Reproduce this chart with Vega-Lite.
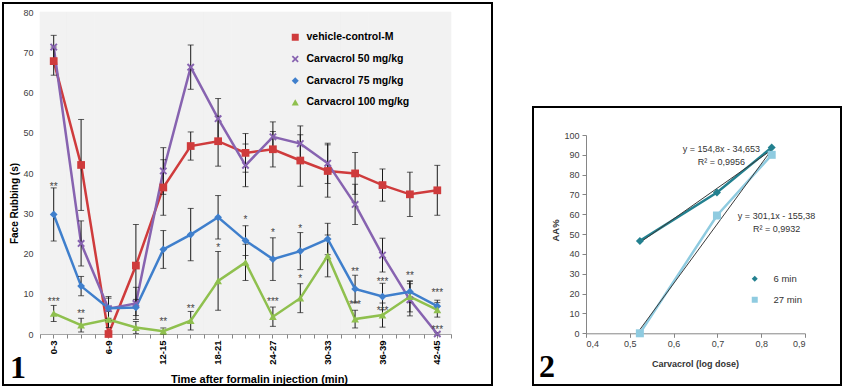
{
  "$schema": "https://vega.github.io/schema/vega-lite/v6.json",
  "padding": {"left": 2, "top": 2, "right": 0, "bottom": 0},
  "background": "white",
  "bounds": "flush",
  "spacing": 41,
  "resolve": {"scale": {"color": "independent", "shape": "independent", "size": "independent", "stroke": "independent"}, "legend": {"color": "independent", "shape": "independent", "size": "independent", "stroke": "independent"}},
  "config": {"font": "Liberation Sans", "view": {"stroke": null}, "axis": {"grid": false}},
  "datasets": {
    "p1": [
      {"series": "vehicle-control-M", "time": "0-3", "mean": 67.8, "err": 3.5},
      {"series": "vehicle-control-M", "time": "3-6", "mean": 42, "err": 11.3},
      {"series": "vehicle-control-M", "time": "6-9", "mean": 0, "err": 0.5},
      {"series": "vehicle-control-M", "time": "9-12", "mean": 17, "err": 10.2},
      {"series": "vehicle-control-M", "time": "12-15", "mean": 36.4, "err": 6.9},
      {"series": "vehicle-control-M", "time": "15-18", "mean": 46.7, "err": 3.5},
      {"series": "vehicle-control-M", "time": "18-21", "mean": 47.9, "err": 6.2},
      {"series": "vehicle-control-M", "time": "21-24", "mean": 45, "err": 4.8},
      {"series": "vehicle-control-M", "time": "24-27", "mean": 45.9, "err": 4.4},
      {"series": "vehicle-control-M", "time": "27-30", "mean": 43.1, "err": 6.4},
      {"series": "vehicle-control-M", "time": "30-33", "mean": 40.5, "err": 6.5},
      {"series": "vehicle-control-M", "time": "33-36", "mean": 39.9, "err": 5.2},
      {"series": "vehicle-control-M", "time": "36-39", "mean": 37, "err": 4},
      {"series": "vehicle-control-M", "time": "39-42", "mean": 34.7, "err": 5.5},
      {"series": "vehicle-control-M", "time": "42-45", "mean": 35.7, "err": 6.2},
      {"series": "Carvacrol 50 mg/kg", "time": "0-3", "mean": 71.3, "err": 2.9},
      {"series": "Carvacrol 50 mg/kg", "time": "3-6", "mean": 22.5, "err": 5.6},
      {"series": "Carvacrol 50 mg/kg", "time": "6-9", "mean": 6.3, "err": 3},
      {"series": "Carvacrol 50 mg/kg", "time": "9-12", "mean": 7.6, "err": 4},
      {"series": "Carvacrol 50 mg/kg", "time": "12-15", "mean": 40.5, "err": 5.8},
      {"series": "Carvacrol 50 mg/kg", "time": "15-18", "mean": 66.3, "err": 5.5},
      {"series": "Carvacrol 50 mg/kg", "time": "18-21", "mean": 53.5, "err": 5},
      {"series": "Carvacrol 50 mg/kg", "time": "21-24", "mean": 41.9, "err": 5.3},
      {"series": "Carvacrol 50 mg/kg", "time": "24-27", "mean": 49, "err": 3.7},
      {"series": "Carvacrol 50 mg/kg", "time": "27-30", "mean": 47.3, "err": 4.4},
      {"series": "Carvacrol 50 mg/kg", "time": "30-33", "mean": 42.4, "err": 5},
      {"series": "Carvacrol 50 mg/kg", "time": "33-36", "mean": 32.2, "err": 5},
      {"series": "Carvacrol 50 mg/kg", "time": "36-39", "mean": 19.6, "err": 4.2},
      {"series": "Carvacrol 50 mg/kg", "time": "39-42", "mean": 8.5, "err": 4},
      {"series": "Carvacrol 50 mg/kg", "time": "42-45", "mean": 0, "err": 0.3},
      {"series": "Carvacrol 75 mg/kg", "time": "0-3", "mean": 29.7, "err": 6.6},
      {"series": "Carvacrol 75 mg/kg", "time": "3-6", "mean": 11.9, "err": 2.4},
      {"series": "Carvacrol 75 mg/kg", "time": "6-9", "mean": 6.4, "err": 2.5},
      {"series": "Carvacrol 75 mg/kg", "time": "9-12", "mean": 6.6, "err": 2},
      {"series": "Carvacrol 75 mg/kg", "time": "12-15", "mean": 21, "err": 4.7},
      {"series": "Carvacrol 75 mg/kg", "time": "15-18", "mean": 24.7, "err": 6.5},
      {"series": "Carvacrol 75 mg/kg", "time": "18-21", "mean": 29, "err": 5.4},
      {"series": "Carvacrol 75 mg/kg", "time": "21-24", "mean": 23.2, "err": 3.7},
      {"series": "Carvacrol 75 mg/kg", "time": "24-27", "mean": 18.6, "err": 5.3},
      {"series": "Carvacrol 75 mg/kg", "time": "27-30", "mean": 20.6, "err": 4.6},
      {"series": "Carvacrol 75 mg/kg", "time": "30-33", "mean": 23.6, "err": 3.9},
      {"series": "Carvacrol 75 mg/kg", "time": "33-36", "mean": 11.2, "err": 3.4},
      {"series": "Carvacrol 75 mg/kg", "time": "36-39", "mean": 9.3, "err": 3.3},
      {"series": "Carvacrol 75 mg/kg", "time": "39-42", "mean": 10.5, "err": 2.7},
      {"series": "Carvacrol 75 mg/kg", "time": "42-45", "mean": 6.9, "err": 1.5},
      {"series": "Carvacrol 100 mg/kg", "time": "0-3", "mean": 5.1, "err": 2},
      {"series": "Carvacrol 100 mg/kg", "time": "3-6", "mean": 2.2, "err": 1.7},
      {"series": "Carvacrol 100 mg/kg", "time": "6-9", "mean": 3.6, "err": 2},
      {"series": "Carvacrol 100 mg/kg", "time": "9-12", "mean": 1.6, "err": 1.5},
      {"series": "Carvacrol 100 mg/kg", "time": "12-15", "mean": 0.7, "err": 0.8},
      {"series": "Carvacrol 100 mg/kg", "time": "15-18", "mean": 3.3, "err": 2.3},
      {"series": "Carvacrol 100 mg/kg", "time": "18-21", "mean": 13.2, "err": 7.3},
      {"series": "Carvacrol 100 mg/kg", "time": "21-24", "mean": 17.8, "err": 4.5},
      {"series": "Carvacrol 100 mg/kg", "time": "24-27", "mean": 4.3, "err": 2.4},
      {"series": "Carvacrol 100 mg/kg", "time": "27-30", "mean": 8.9, "err": 3.6},
      {"series": "Carvacrol 100 mg/kg", "time": "30-33", "mean": 19.4, "err": 5.2},
      {"series": "Carvacrol 100 mg/kg", "time": "33-36", "mean": 3.7, "err": 2.2},
      {"series": "Carvacrol 100 mg/kg", "time": "36-39", "mean": 4.7, "err": 3},
      {"series": "Carvacrol 100 mg/kg", "time": "39-42", "mean": 9.3, "err": 3.8},
      {"series": "Carvacrol 100 mg/kg", "time": "42-45", "mean": 6, "err": 1.8}
    ],
    "stars": [
      {"time": "0-3", "pos": 37.1, "label": "**"},
      {"time": "0-3", "pos": 8.4, "label": "***"},
      {"time": "3-6", "pos": 5.4, "label": "**"},
      {"time": "12-15", "pos": 3.5, "label": "**"},
      {"time": "15-18", "pos": 6.8, "label": "**"},
      {"time": "18-21", "pos": 21.9, "label": "*"},
      {"time": "21-24", "pos": 28.7, "label": "*"},
      {"time": "24-27", "pos": 25.6, "label": "*"},
      {"time": "24-27", "pos": 8.4, "label": "***"},
      {"time": "27-30", "pos": 26.6, "label": "*"},
      {"time": "27-30", "pos": 14.2, "label": "*"},
      {"time": "33-36", "pos": 15.9, "label": "**"},
      {"time": "33-36", "pos": 7.8, "label": "***"},
      {"time": "36-39", "pos": 13.4, "label": "***"},
      {"time": "36-39", "pos": 6.2, "label": "***"},
      {"time": "39-42", "pos": 14.8, "label": "**"},
      {"time": "42-45", "pos": 10.7, "label": "***"},
      {"time": "42-45", "pos": 1.4, "label": "***"}
    ],
    "p2": [
      {"series": "6 min", "dose": 0.523, "aa": 46.6},
      {"series": "6 min", "dose": 0.699, "aa": 71},
      {"series": "6 min", "dose": 0.824, "aa": 93.7},
      {"series": "27 min", "dose": 0.523, "aa": 0},
      {"series": "27 min", "dose": 0.699, "aa": 59.4},
      {"series": "27 min", "dose": 0.824, "aa": 90}
    ],
    "eq": [
      {"dose": 0.709, "aa": 92.9, "label": "y = 154,8x - 34,653"},
      {"dose": 0.709, "aa": 86.5, "label": "R² = 0,9956"},
      {"dose": 0.835, "aa": 59.3, "label": "y = 301,1x - 155,38"},
      {"dose": 0.835, "aa": 52.6, "label": "R² = 0,9932"}
    ]
  },
  "hconcat": [
    {
      "width": 489,
      "height": 382,
      "view": {"stroke": "black", "strokeWidth": 2, "fill": "white"},
      "title": {"text": "1", "orient": "bottom", "anchor": "start", "frame": "group", "offset": -7, "baseline": "alphabetic", "dx": 7, "fontSize": 32, "font": "Liberation Serif", "fontWeight": "bold", "color": "black"},
      "resolve": {"axis": {"x": "independent"}, "scale": {"stroke": "independent"}, "legend": {"stroke": "independent"}},
      "layer": [
        {
          "data": {"name": "p1"},
          "transform": [{"filter": "datum.series === 'vehicle-control-M'"}],
          "mark": {"type": "rect", "color": "#f2f2f2", "stroke": "#f2f2f2", "strokeWidth": 0.6},
          "encoding": {
            "x": {"field": "time", "type": "ordinal",
              "scale": {"type": "band", "domain": ["0-3","3-6","6-9","9-12","12-15","15-18","18-21","21-24","24-27","27-30","30-33","33-36","36-39","39-42","42-45"], "range": [37, 448], "paddingInner": 0, "paddingOuter": 0},
              "axis": {"orient": "bottom", "offset": -51, "labels": false, "domain": false, "tickBand": "extent", "tickSize": 4, "tickColor": "#868686", "title": null}},
            "y": {"datum": 0, "type": "quantitative", "title": "Face Rubbing (s)",
              "scale": {"domain": [0, 80], "range": [331, 9], "nice": false, "zero": true},
              "axis": {"values": [0,10,20,30,40,50,60,70,80], "offset": -37, "ticks": false, "tickSize": 0, "labelPadding": 7, "labelFontSize": 9, "labelColor": "#404040", "domainColor": "#868686", "title": "Face Rubbing (s)", "titleFontSize": 10, "titleFontWeight": "bold", "titleColor": "#000000", "titleX": -26, "titleY": 200, "titleAngle": 270, "titleAlign": "center", "titleBaseline": "middle"}},
            "y2": {"datum": 80}
          }
        },
        {
          "data": {"name": "p1"},
          "mark": {"type": "line", "strokeWidth": 2.5},
          "encoding": {
            "x": {"field": "time", "type": "ordinal", "sort": ["0-3","3-6","6-9","9-12","12-15","15-18","18-21","21-24","24-27","27-30","30-33","33-36","36-39","39-42","42-45"],
              "axis": {"orient": "bottom", "offset": -51, "labelAngle": 270, "labelFontWeight": "bold", "labelFontSize": 9.5, "labelColor": "#000000", "labelPadding": 2, "labelExpr": "indexof(['0-3','6-9','12-15','18-21','24-27','30-33','36-39','42-45'], datum.value) >= 0 ? datum.value : ''", "tickSize": 4, "tickColor": "#868686", "domainColor": "#868686", "title": "Time after formalin injection (min)", "titleFontSize": 11, "titleFontWeight": "bold", "titleColor": "#000000", "titleX": 256, "titleY": 45, "titleBaseline": "middle", "titleAlign": "center"}},
            "y": {"field": "mean", "type": "quantitative", "title": "Face Rubbing (s)"},
            "stroke": {"field": "series", "type": "nominal", "legend": null,
              "scale": {"domain": ["vehicle-control-M", "Carvacrol 50 mg/kg", "Carvacrol 75 mg/kg", "Carvacrol 100 mg/kg"], "range": ["#cf3b3c", "#8763b0", "#3f7fcc", "#8fc04e"]}}
          }
        },
        {
          "data": {"name": "p1"},
          "mark": {"type": "errorbar", "color": "#1a1a1a", "thickness": 1, "ticks": {"size": 6, "thickness": 1, "color": "#1a1a1a"}},
          "encoding": {
            "x": {"field": "time", "type": "ordinal", "axis": null},
            "y": {"field": "mean", "type": "quantitative", "title": "Face Rubbing (s)"},
            "yError": {"field": "err"}
          }
        },
        {
          "data": {"name": "p1"},
          "mark": {"type": "point", "filled": true, "opacity": 1, "size": 60},
          "encoding": {
            "x": {"field": "time", "type": "ordinal", "axis": null},
            "y": {"field": "mean", "type": "quantitative", "title": "Face Rubbing (s)"},
            "color": {"field": "series", "type": "nominal",
              "scale": {"domain": ["vehicle-control-M", "Carvacrol 50 mg/kg", "Carvacrol 75 mg/kg", "Carvacrol 100 mg/kg"], "range": ["#cf3b3c", "#8763b0", "#3f7fcc", "#8fc04e"]},
              "legend": {"orient": "none", "legendX": 287, "legendY": 29, "title": null, "symbolSize": 49, "symbolStrokeWidth": 2, "labelFontSize": 10.5, "labelFontWeight": "bold", "labelColor": "#000000", "labelOffset": 6, "rowPadding": 10.7, "padding": 0,
                "encode": {"symbols": {
                  "shape": {"value": {"expr": "datum.value === 'vehicle-control-M' ? 'M-3,0H3M-1,-1H1V1H-1Z' : datum.value === 'Carvacrol 50 mg/kg' ? 'M-3,0H3M-1,-0.65L-0.65,-1L0,-0.35L0.65,-1L1,-0.65L0.35,0L1,0.65L0.65,1L0,0.35L-0.65,1L-1,0.65L-0.35,0Z' : datum.value === 'Carvacrol 75 mg/kg' ? 'M-3,0H3M0,-1.1L1.1,0L0,1.1L-1.1,0Z' : 'M-3,0H3M0,-1.1L1.1,0.9L-1.1,0.9Z'"}},
                  "stroke": {"value": {"expr": "datum.value === 'vehicle-control-M' ? '#cf3b3c' : datum.value === 'Carvacrol 50 mg/kg' ? '#8763b0' : datum.value === 'Carvacrol 75 mg/kg' ? '#3f7fcc' : '#8fc04e'"}},
                  "strokeWidth": {"value": 2},
                  "size": {"value": 49},
                  "opacity": {"value": 1}
                }}}},
            "shape": {"field": "series", "type": "nominal",
              "scale": {"domain": ["vehicle-control-M", "Carvacrol 50 mg/kg", "Carvacrol 75 mg/kg", "Carvacrol 100 mg/kg"], "range": ["square", "M-1,-0.65L-0.65,-1L0,-0.35L0.65,-1L1,-0.65L0.35,0L1,0.65L0.65,1L0,0.35L-0.65,1L-1,0.65L-0.35,0Z", "diamond", "triangle-up"]}}
          }
        },
        {
          "data": {"name": "stars"},
          "mark": {"type": "text", "fontSize": 10, "color": "#444444", "baseline": "middle", "dy": 2},
          "encoding": {
            "x": {"field": "time", "type": "ordinal", "axis": null},
            "y": {"field": "pos", "type": "quantitative", "title": "Face Rubbing (s)"},
            "text": {"field": "label"}
          }
        }
      ]
    },
    {
      "bounds": "flush",
      "spacing": 103,
      "vconcat": [
        {"width": 1, "height": 1, "data": {"values": []}, "mark": {"type": "point", "opacity": 0}},
        {
          "width": 308,
          "height": 278,
          "view": {"stroke": "black", "strokeWidth": 2, "fill": "white"},
          "title": {"text": "2", "orient": "bottom", "anchor": "start", "frame": "group", "offset": -8, "baseline": "alphabetic", "dx": 6, "fontSize": 32, "font": "Liberation Serif", "fontWeight": "bold", "color": "black"},
          "resolve": {"scale": {"stroke": "independent"}, "legend": {"stroke": "independent"}},
          "layer": [
            {
              "data": {"name": "p2"},
              "mark": {"type": "line", "strokeWidth": 2.5},
              "encoding": {
                "x": {"field": "dose", "type": "quantitative", "title": "Carvacrol  (log dose)",
                  "scale": {"domain": [0.4, 0.9], "range": [53, 272], "nice": false, "zero": false},
                  "axis": {"values": [0.4, 0.5, 0.6, 0.7, 0.8, 0.9], "labelOverlap": false, "labelExpr": "replace(format(datum.value, '.1f'), '.', ',')", "offset": -51.7, "tickSize": 4, "tickColor": "#868686", "domainColor": "#868686", "labelFontSize": 9, "labelColor": "#404040", "labelPadding": 2, "title": "Carvacrol  (log dose)", "titleFontSize": 9, "titleFontWeight": "bold", "titleColor": "#333333", "titleX": 162, "titleY": 30, "titleBaseline": "middle", "titleAlign": "center"}},
                "y": {"field": "aa", "type": "quantitative", "title": "AA%",
                  "scale": {"domain": [0, 100], "range": [226.3, 28], "nice": false},
                  "axis": {"values": [0,10,20,30,40,50,60,70,80,90,100], "labelOverlap": false, "offset": -53, "tickSize": 4, "tickColor": "#868686", "domainColor": "#868686", "labelFontSize": 9, "labelColor": "#404040", "labelPadding": 3, "title": "AA%", "titleFontSize": 9.5, "titleFontWeight": "bold", "titleColor": "#333333", "titleX": -31, "titleY": 123, "titleAngle": 270, "titleAlign": "center", "titleBaseline": "middle"}},
                "stroke": {"field": "series", "type": "nominal", "legend": null,
                  "scale": {"domain": ["6 min", "27 min"], "range": ["#23808f", "#8fcbe0"]}}
              }
            },
            {
              "data": {"name": "p2"},
              "transform": [{"regression": "aa", "on": "dose", "groupby": ["series"]}],
              "mark": {"type": "line", "color": "#3a3a3a", "strokeWidth": 1},
              "encoding": {
                "x": {"field": "dose", "type": "quantitative", "title": "Carvacrol  (log dose)",
                  "axis": {"values": [0.4, 0.5, 0.6, 0.7, 0.8, 0.9], "labelOverlap": false, "labelExpr": "replace(format(datum.value, '.1f'), '.', ',')", "offset": -51.7, "tickSize": 4, "tickColor": "#868686", "domainColor": "#868686", "labelFontSize": 9, "labelColor": "#404040", "labelPadding": 2, "title": "Carvacrol  (log dose)", "titleFontSize": 9, "titleFontWeight": "bold", "titleColor": "#333333", "titleX": 162, "titleY": 30, "titleBaseline": "middle", "titleAlign": "center"}},
                "y": {"field": "aa", "type": "quantitative", "title": "AA%",
                  "axis": {"values": [0,10,20,30,40,50,60,70,80,90,100], "labelOverlap": false, "offset": -53, "tickSize": 4, "tickColor": "#868686", "domainColor": "#868686", "labelFontSize": 9, "labelColor": "#404040", "labelPadding": 3, "title": "AA%", "titleFontSize": 9.5, "titleFontWeight": "bold", "titleColor": "#333333", "titleX": -31, "titleY": 123, "titleAngle": 270, "titleAlign": "center", "titleBaseline": "middle"}},
                "detail": {"field": "series", "type": "nominal"}
              }
            },
            {
              "data": {"name": "p2"},
              "mark": {"type": "point", "filled": true, "opacity": 1, "size": 64},
              "encoding": {
                "x": {"field": "dose", "type": "quantitative", "title": "Carvacrol  (log dose)",
                  "axis": {"values": [0.4, 0.5, 0.6, 0.7, 0.8, 0.9], "labelOverlap": false, "labelExpr": "replace(format(datum.value, '.1f'), '.', ',')", "offset": -51.7, "tickSize": 4, "tickColor": "#868686", "domainColor": "#868686", "labelFontSize": 9, "labelColor": "#404040", "labelPadding": 2, "title": "Carvacrol  (log dose)", "titleFontSize": 9, "titleFontWeight": "bold", "titleColor": "#333333", "titleX": 162, "titleY": 30, "titleBaseline": "middle", "titleAlign": "center"}},
                "y": {"field": "aa", "type": "quantitative", "title": "AA%",
                  "axis": {"values": [0,10,20,30,40,50,60,70,80,90,100], "labelOverlap": false, "offset": -53, "tickSize": 4, "tickColor": "#868686", "domainColor": "#868686", "labelFontSize": 9, "labelColor": "#404040", "labelPadding": 3, "title": "AA%", "titleFontSize": 9.5, "titleFontWeight": "bold", "titleColor": "#333333", "titleX": -31, "titleY": 123, "titleAngle": 270, "titleAlign": "center", "titleBaseline": "middle"}},
                "color": {"field": "series", "type": "nominal",
                  "scale": {"domain": ["6 min", "27 min"], "range": ["#23808f", "#8fcbe0"]},
                  "legend": {"orient": "none", "legendX": 217, "legendY": 271, "title": null, "symbolSize": 36, "labelFontSize": 9.5, "labelColor": "#333333", "labelOffset": 14, "rowPadding": 10, "padding": 0,
                    "encode": {"symbols": {
                      "shape": {"value": {"expr": "datum.value === '6 min' ? 'M-4,0H4M0,-1.2L1.2,0L0,1.2L-1.2,0Z' : 'M-4,0H4M-1.1,-1.1H1.1V1.1H-1.1Z'"}},
                      "stroke": {"value": {"expr": "datum.value === '6 min' ? '#23808f' : '#8fcbe0'"}},
                      "strokeWidth": {"value": 2.5},
                      "size": {"value": 36},
                      "opacity": {"value": 1}
                    }}}},
                "shape": {"field": "series", "type": "nominal",
                  "scale": {"domain": ["6 min", "27 min"], "range": ["diamond", "square"]}}
              }
            },
            {
              "data": {"name": "eq"},
              "mark": {"type": "text", "fontSize": 9, "color": "#333333", "align": "center", "baseline": "middle"},
              "encoding": {
                "x": {"field": "dose", "type": "quantitative", "title": "Carvacrol  (log dose)",
                  "axis": {"values": [0.4, 0.5, 0.6, 0.7, 0.8, 0.9], "labelOverlap": false, "labelExpr": "replace(format(datum.value, '.1f'), '.', ',')", "offset": -51.7, "tickSize": 4, "tickColor": "#868686", "domainColor": "#868686", "labelFontSize": 9, "labelColor": "#404040", "labelPadding": 2, "title": "Carvacrol  (log dose)", "titleFontSize": 9, "titleFontWeight": "bold", "titleColor": "#333333", "titleX": 162, "titleY": 30, "titleBaseline": "middle", "titleAlign": "center"}},
                "y": {"field": "aa", "type": "quantitative", "title": "AA%",
                  "axis": {"values": [0,10,20,30,40,50,60,70,80,90,100], "labelOverlap": false, "offset": -53, "tickSize": 4, "tickColor": "#868686", "domainColor": "#868686", "labelFontSize": 9, "labelColor": "#404040", "labelPadding": 3, "title": "AA%", "titleFontSize": 9.5, "titleFontWeight": "bold", "titleColor": "#333333", "titleX": -31, "titleY": 123, "titleAngle": 270, "titleAlign": "center", "titleBaseline": "middle"}},
                "text": {"field": "label"}
              }
            }
          ]
        }
      ]
    }
  ]
}
